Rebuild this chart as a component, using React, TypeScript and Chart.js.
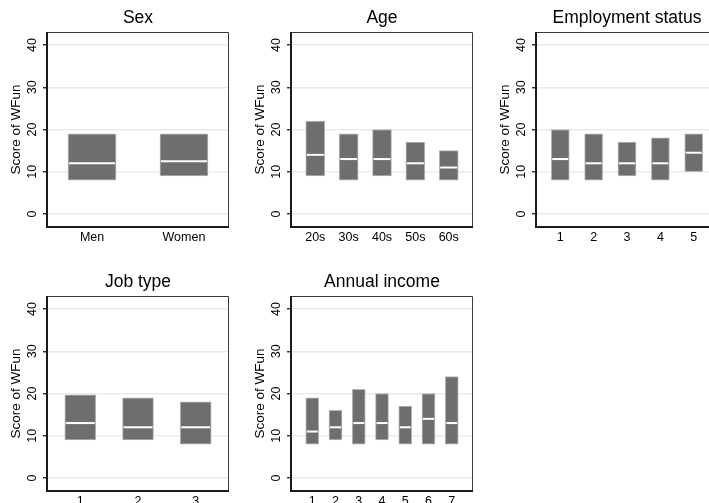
import React, { useEffect, useRef } from "react";
import { Chart, registerables } from "chart.js";

Chart.register(...registerables);
Chart.defaults.font.family = '"Liberation Sans", Arial, Helvetica, sans-serif';
Chart.defaults.color = "#000";

// ---- data ----
const yTickValues = [0, 10, 20, 30, 40];
const yAxisTitle = "Score of WFun";

const sexLabels = ["Men", "Women"];
const sexQ1 = [8, 9];
const sexQ3 = [19, 19];
const sexMedian = [12, 12.5];

const ageLabels = ["20s", "30s", "40s", "50s", "60s"];
const ageQ1 = [9, 8, 9, 8, 8];
const ageQ3 = [22, 19, 20, 17, 15];
const ageMedian = [14, 13, 13, 12, 11];

const empLabels = ["1", "2", "3", "4", "5"];
const empQ1 = [8, 8, 9, 8, 10];
const empQ3 = [20, 19, 17, 18, 19];
const empMedian = [13, 12, 12, 12, 14.5];

const jobLabels = ["1", "2", "3"];
const jobQ1 = [9, 9, 8];
const jobQ3 = [19.7, 19, 18];
const jobMedian = [13, 12, 12];

const incomeLabels = ["1", "2", "3", "4", "5", "6", "7"];
const incomeQ1 = [8, 9, 8, 9, 8, 8, 8];
const incomeQ3 = [19, 16, 21, 20, 17, 20, 24];
const incomeMedian = [11, 12, 13, 13, 12, 14, 13];

// ---- panel layout / style config ----
type PanelCfg = {
  title: string;
  labels: string[];
  q1: number[];
  q3: number[];
  med: number[];
  left: number;
  top: number;
  margin: number;
  thickness: number;
};

const panels: PanelCfg[] = [
  { title: "Sex", labels: sexLabels, q1: sexQ1, q3: sexQ3, med: sexMedian, left: 0, top: 0, margin: 0.49, thickness: 48 },
  { title: "Age", labels: ageLabels, q1: ageQ1, q3: ageQ3, med: ageMedian, left: 244, top: 0, margin: 0.727, thickness: 19 },
  { title: "Employment status", labels: empLabels, q1: empQ1, q3: empQ3, med: empMedian, left: 489, top: 0, margin: 0.727, thickness: 18 },
  { title: "Job type", labels: jobLabels, q1: jobQ1, q3: jobQ3, med: jobMedian, left: 0, top: 264, margin: 0.577, thickness: 31 },
  { title: "Annual income", labels: incomeLabels, q1: incomeQ1, q3: incomeQ3, med: incomeMedian, left: 244, top: 264, margin: 0.914, thickness: 13 },
];

const framePlugin = {
  id: "frame",
  afterDatasetsDraw(chart: any) {
    const { ctx, chartArea } = chart;
    const { left, top, right, bottom } = chartArea;
    ctx.save();
    ctx.strokeStyle = "#3a3a3a";
    ctx.lineWidth = 1;
    ctx.beginPath();
    ctx.moveTo(left, top + 0.5);
    ctx.lineTo(right - 0.5, top + 0.5);
    ctx.lineTo(right - 0.5, bottom);
    ctx.stroke();
    ctx.strokeStyle = "#1a1a1a";
    ctx.lineWidth = 2;
    ctx.beginPath();
    ctx.moveTo(left, top);
    ctx.lineTo(left, bottom);
    ctx.lineTo(right, bottom);
    ctx.stroke();
    ctx.restore();
  },
};

function Panel({ cfg }: { cfg: PanelCfg }) {
  const ref = useRef<HTMLCanvasElement | null>(null);
  useEffect(() => {
    if (!ref.current) return;
    const n = cfg.labels.length;
    const chart = new Chart(ref.current, {
      type: "bar",
      data: {
        datasets: [
          {
            type: "bar",
            data: cfg.labels.map((_, i) => ({ x: i + 1, y: [cfg.q1[i], cfg.q3[i]] })) as any,
            backgroundColor: "#6e6e6e",
            borderColor: "#b8b8b8",
            borderWidth: 1,
            borderSkipped: false,
            barThickness: cfg.thickness,
            order: 2,
          } as any,
          {
            type: "line",
            data: cfg.labels.map((_, i) => ({ x: i + 1, y: cfg.med[i] })) as any,
            showLine: false,
            pointStyle: "line",
            pointRadius: cfg.thickness / 2 - 1,
            pointHoverRadius: cfg.thickness / 2 - 1,
            pointBorderColor: "#ffffff",
            pointBackgroundColor: "#ffffff",
            pointBorderWidth: 2,
            pointHoverBorderWidth: 2,
            order: 1,
          } as any,
        ],
      },
      options: {
        animation: false,
        responsive: false,
        devicePixelRatio: 1,
        layout: { autoPadding: false, padding: { left: 0, right: 11, top: 0, bottom: 3 } },
        plugins: {
          legend: { display: false },
          tooltip: { enabled: false },
          title: {
            display: true,
            text: cfg.title,
            fullSize: false,
            color: "#000",
            font: { size: 17.5, weight: "normal" as any, lineHeight: 1.2 },
            padding: { top: 8, bottom: 3 },
          },
        },
        scales: {
          x: {
            type: "linear",
            offset: false,
            min: 1 - cfg.margin,
            max: n + cfg.margin,
            grid: { display: false, drawTicks: false },
            border: { display: false },
            afterBuildTicks: (s: any) => {
              s.ticks = cfg.labels.map((_, i) => ({ value: i + 1 }));
            },
            ticks: {
              autoSkip: false,
              maxRotation: 0,
              minRotation: 0,
              padding: 3,
              color: "#000",
              font: { size: 12.5 },
              callback: (v: any) => cfg.labels[Number(v) - 1] ?? "",
            },
            afterFit: (s: any) => {
              s.height = 30;
            },
          } as any,
          y: {
            type: "linear",
            min: -3.08,
            max: 43.08,
            afterBuildTicks: (s: any) => {
              s.ticks = yTickValues.map((v) => ({ value: v }));
            },
            grid: {
              color: "#ebebeb",
              lineWidth: 1.5,
              tickColor: "#1a1a1a",
              tickLength: 4,
              tickWidth: 1.3,
            },
            border: { display: false },
            ticks: {
              minRotation: 90,
              maxRotation: 90,
              crossAlign: "center",
              padding: 4,
              color: "#000",
              font: { size: 12.5 },
            },
            title: {
              display: true,
              text: yAxisTitle,
              color: "#000",
              font: { size: 13.5 },
              padding: { top: 8.5, bottom: 0 },
            },
            afterFit: (s: any) => {
              s.width = 47;
            },
          } as any,
        },
      },
      plugins: [framePlugin],
    });
    return () => chart.destroy();
  }, [cfg]);
  return (
    <canvas
      ref={ref}
      width={240}
      height={260}
      style={{ position: "absolute", left: cfg.left, top: cfg.top, width: 240, height: 260 }}
    />
  );
}

export default function App() {
  return (
    <div
      style={{
        position: "fixed",
        left: 0,
        top: 0,
        width: 709,
        height: 503,
        overflow: "hidden",
        background: "#fff",
      }}
    >
      {panels.map((p) => (
        <Panel key={p.title} cfg={p} />
      ))}
    </div>
  );
}
